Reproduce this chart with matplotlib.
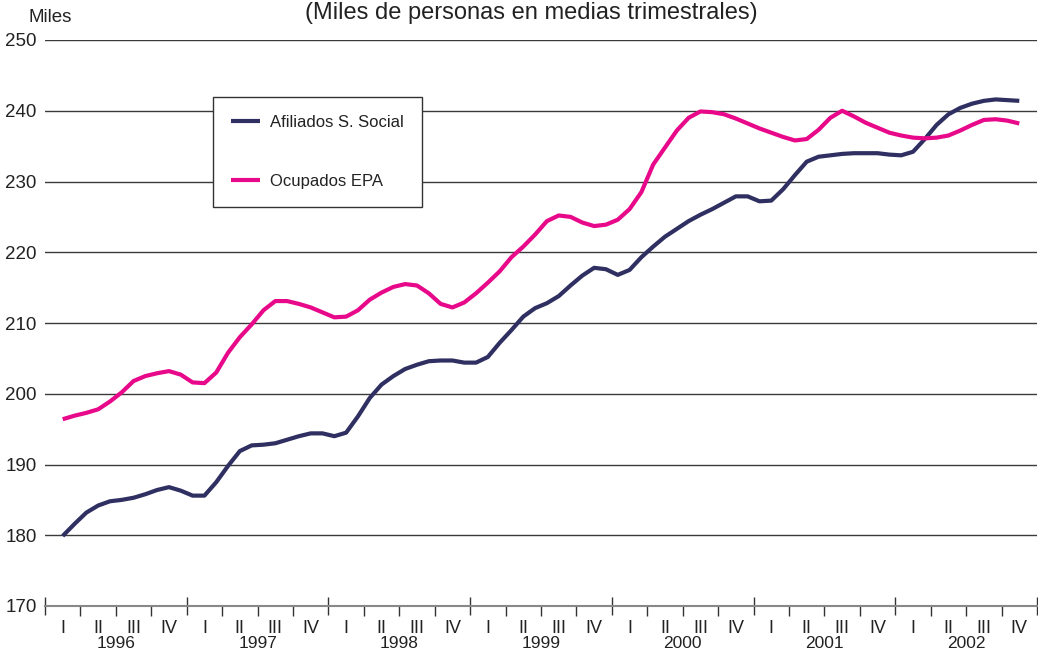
import matplotlib
matplotlib.use("Agg")
import matplotlib.pyplot as plt
import numpy as np

plt.rcParams['font.family'] = ['Liberation Sans', 'DejaVu Sans']

# months since Jan 1996 (Feb 1996 .. Nov 2002), quarterly moving averages
months = np.arange(1, 83)

afiliados = [
    179.9, 181.6, 183.2, 184.2, 184.8, 185.0, 185.3, 185.8, 186.4, 186.8, 186.3,
    185.6, 185.6, 187.5, 189.8, 191.9, 192.7, 192.8, 193.0, 193.5, 194.0, 194.4, 194.4,
    194.0, 194.5, 196.8, 199.4, 201.3, 202.5, 203.5, 204.1, 204.6, 204.7, 204.7, 204.4,
    204.4, 205.2, 207.2, 209.0, 210.9, 212.1, 212.8, 213.8, 215.3, 216.7, 217.8, 217.6,
    216.8, 217.5, 219.3, 220.8, 222.2, 223.3, 224.4, 225.3, 226.1, 227.0, 227.9, 227.9,
    227.2, 227.3, 228.9, 230.9, 232.8, 233.5, 233.7, 233.9, 234.0, 234.0, 234.0, 233.8,
    233.7, 234.2, 236.0, 238.0, 239.5, 240.4, 241.0, 241.4, 241.6, 241.5, 241.4,
]

ocupados = [
    196.4, 196.9, 197.3, 197.8, 198.9, 200.2, 201.8, 202.5, 202.9, 203.2, 202.7,
    201.6, 201.5, 203.0, 205.8, 208.0, 209.8, 211.8, 213.1, 213.1, 212.7, 212.2, 211.5,
    210.8, 210.9, 211.8, 213.3, 214.3, 215.1, 215.5, 215.3, 214.2, 212.7, 212.2, 212.9,
    214.2, 215.7, 217.3, 219.3, 220.8, 222.5, 224.4, 225.2, 225.0, 224.2, 223.7, 223.9,
    224.6, 226.1, 228.5, 232.4, 234.8, 237.2, 239.0, 239.9, 239.8, 239.5, 238.9, 238.2,
    237.5, 236.9, 236.3, 235.8, 236.0, 237.3, 239.0, 240.0, 239.2, 238.3, 237.6, 236.9,
    236.5, 236.2, 236.1, 236.2, 236.5, 237.2, 238.0, 238.7, 238.8, 238.6, 238.2,
]

years = [1996, 1997, 1998, 1999, 2000, 2001, 2002]
quarters = ["I", "II", "III", "IV"]

navy = "#2f2f62"
pink = "#e8088a"

fig = plt.figure(figsize=(10.38, 6.53), dpi=100)
ax = fig.add_axes([45 / 1038, 47 / 653, 992 / 1038, 566 / 653])

x = years[0] + (months + 0.5) / 12
ax.plot(x, afiliados, color=navy, lw=3, label="Afiliados S. Social",
        solid_capstyle="butt", solid_joinstyle="round")
ax.plot(x, ocupados, color=pink, lw=3, label="Ocupados EPA",
        solid_capstyle="butt", solid_joinstyle="round")

ax.set_xlim(years[0], years[-1] + 1)
ax.set_ylim(170, 250)
ax.set_yticks(np.arange(170, 251, 10))
for v in range(180, 251, 10):
    ax.axhline(v, color="#3a3a3a", lw=1, zorder=0)

for s in ["top", "right", "left"]:
    ax.spines[s].set_visible(False)
ax.spines["bottom"].set_color("#888888")
ax.spines["bottom"].set_linewidth(1.5)

ax.tick_params(axis="y", length=0, pad=6, labelsize=13.5, labelcolor="#222222")
ax.set_xticks(list(years) + [years[-1] + 1])
ax.set_xticks([y + q / 4 for y in years for q in (1, 2, 3)], minor=True)
ax.set_xticklabels([])
ax.tick_params(axis="x", which="major", direction="inout", length=13, width=1, color="#333333")
ax.tick_params(axis="x", which="minor", direction="out", length=7, width=1, color="#333333")

tr = ax.get_xaxis_transform()
for yr in years:
    for i, q in enumerate(quarters):
        ax.text(yr + (i + 0.5) / 4, -0.040, q, transform=tr, ha="center", va="center",
                fontsize=13, color="#222222")
    ax.text(yr + 0.5, -0.066, str(yr), transform=tr, ha="center", va="center",
            fontsize=12.5, color="#222222")

fig.text(28 / 1038, 1 - 17 / 653, "Miles", ha="left", va="center", fontsize=13.5, color="#222222")
fig.text(531 / 1038, 1 - 19 / 653, "(Miles de personas en medias trimestrales)",
         ha="center", va="baseline", fontsize=17, color="#222222")

leg = ax.legend(loc="upper left", bbox_to_anchor=(213 / 1038, 1 - 97 / 653),
                bbox_transform=fig.transFigure, borderaxespad=0, fontsize=12,
                handlelength=1.7, handletextpad=0.6, labelspacing=2.6, borderpad=1.1,
                fancybox=False, framealpha=1, edgecolor="#333333")
leg.get_frame().set_linewidth(1)
for t in leg.get_texts():
    t.set_color("#222222")

fig.savefig("out.png", dpi=100)
